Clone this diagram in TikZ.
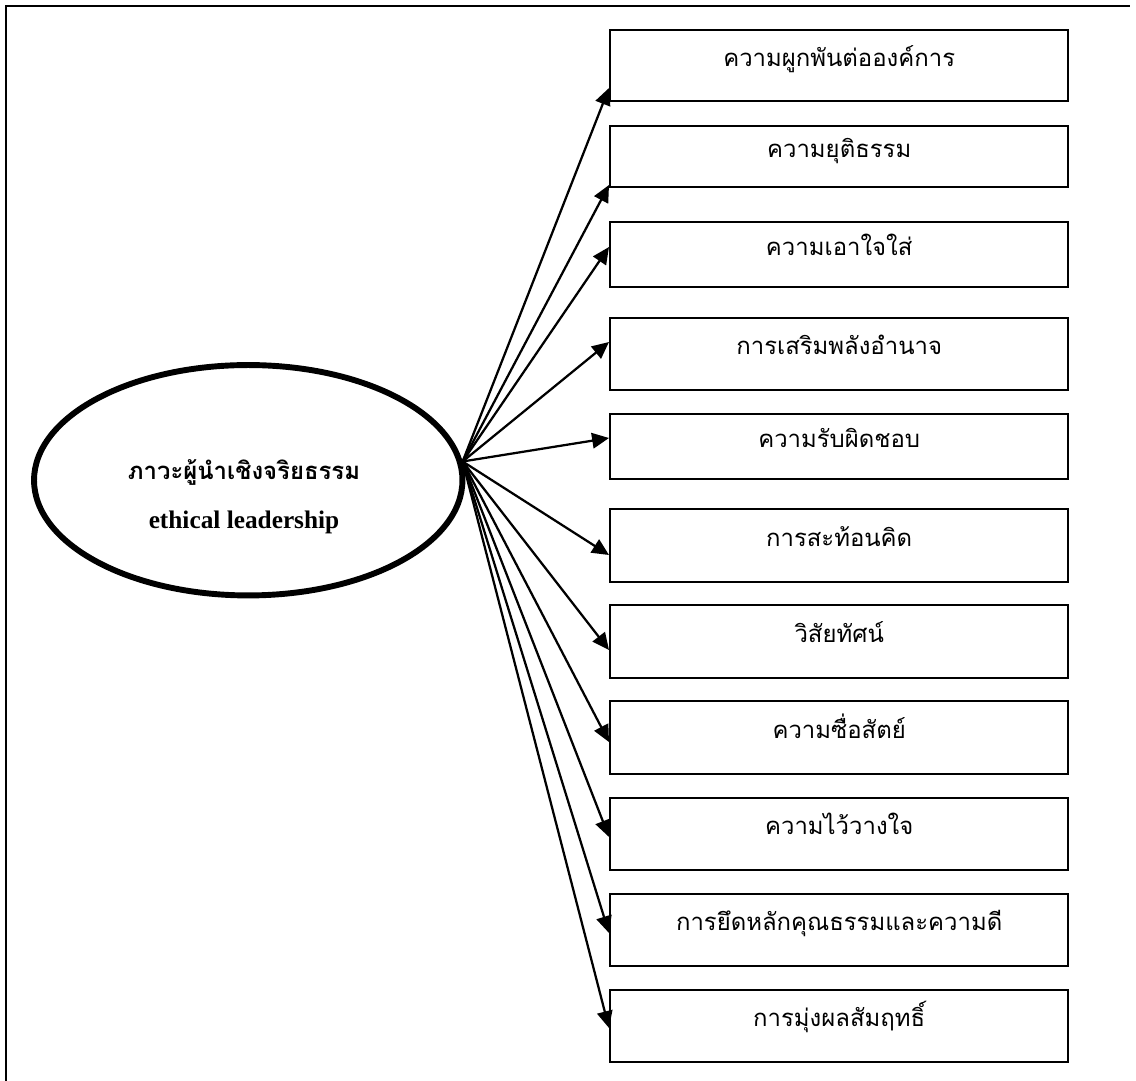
\documentclass[tikz,border=0pt]{standalone}
\usepackage{fontspec}
\setmainfont{Liberation Serif}
\newfontfamily\thaifont[Script=Thai]{Loma}
\newfontfamily\enfont{Liberation Serif}
\usetikzlibrary{shapes.geometric, arrows.meta, positioning, calc}
\tikzset{
  basebox/.style={rectangle,draw=black,line width=1.7pt,align=center,font=\thaifont\fontsize{17pt}{20pt}\selectfont},
  factnode/.style={basebox,anchor=north west,minimum width=11.45cm,text height=12pt,text depth=11pt,inner sep=0pt},
  leadnode/.style={ellipse,draw=black,line width=4.2pt,minimum width=10.71cm,minimum height=5.76cm,inner sep=0pt},
  leadth/.style={font=\thaifont\bfseries\fontsize{17pt}{20pt}\selectfont},
  leaden/.style={font=\enfont\bfseries\fontsize{18pt}{21pt}\selectfont},
  arr/.style={-{Triangle[length=12pt,width=11pt]},line width=1.6pt,color=black},
  framelin/.style={line width=1.7pt,color=black}
}

\begin{document}
\begin{tikzpicture}
  \useasboundingbox (0,0) rectangle (28.4,-27.025);
  \draw[framelin] (0.155,-27.025) -- (0.155,-0.155) -- (28.25,-0.155);

  \node[leadnode] (lead) at (6.206,-12.006) {};
  \node[leadth] (leadthai) at (6.1,-11.8) {ภาวะผู้นำเชิงจริยธรรม};
  \node[leaden] (leadeng) at (6.1,-13.05) {ethical leadership};

  \node[factnode,minimum height=1.775cm] (commit) at (15.225,-0.725) {ความผูกพันต่อองค์การ};
  \node[factnode,minimum height=1.525cm] (justice) at (15.225,-3.125) {ความยุติธรรม};
  \node[factnode,minimum height=1.625cm] (care) at (15.225,-5.525) {ความเอาใจใส่};
  \node[factnode,minimum height=1.8cm] (empower) at (15.225,-7.925) {การเสริมพลังอำนาจ};
  \node[factnode,minimum height=1.625cm] (respons) at (15.225,-10.325) {ความรับผิดชอบ};
  \node[factnode,minimum height=1.825cm] (reflect) at (15.225,-12.7) {การสะท้อนคิด};
  \node[factnode,minimum height=1.825cm] (vision) at (15.225,-15.1) {วิสัยทัศน์};
  \node[factnode,minimum height=1.825cm] (honest) at (15.225,-17.5) {ความซื่อสัตย์};
  \node[factnode,minimum height=1.8cm] (trust) at (15.225,-19.925) {ความไว้วางใจ};
  \node[factnode,minimum height=1.8cm] (virtue) at (15.225,-22.325) {การยึดหลักคุณธรรมและความดี};
  \node[factnode,minimum height=1.8cm] (achieve) at (15.225,-24.725) {การมุ่งผลสัมฤทธิ์};

  \draw[arr] (lead.5) -- ([yshift=-1.475cm]commit.north west);
  \draw[arr] (lead.5) -- ([yshift=-1.5cm]justice.north west);
  \draw[arr] (lead.5) -- ([yshift=-0.65cm]care.north west);
  \draw[arr] (lead.5) -- ([yshift=-0.625cm]empower.north west);
  \draw[arr] (lead.5) -- ([yshift=-0.625cm]respons.north west);
  \draw[arr] (lead.5) -- ([yshift=-1.175cm]reflect.north west);
  \draw[arr] (lead.5) -- ([yshift=-1.15cm]vision.north west);
  \draw[arr] (lead.5) -- ([yshift=-1.05cm]honest.north west);
  \draw[arr] (lead.5) -- ([yshift=-1.0cm]trust.north west);
  \draw[arr] (lead.5) -- ([yshift=-1.0cm]virtue.north west);
  \draw[arr] (lead.5) -- ([yshift=-0.975cm]achieve.north west);
\end{tikzpicture}
\end{document}
